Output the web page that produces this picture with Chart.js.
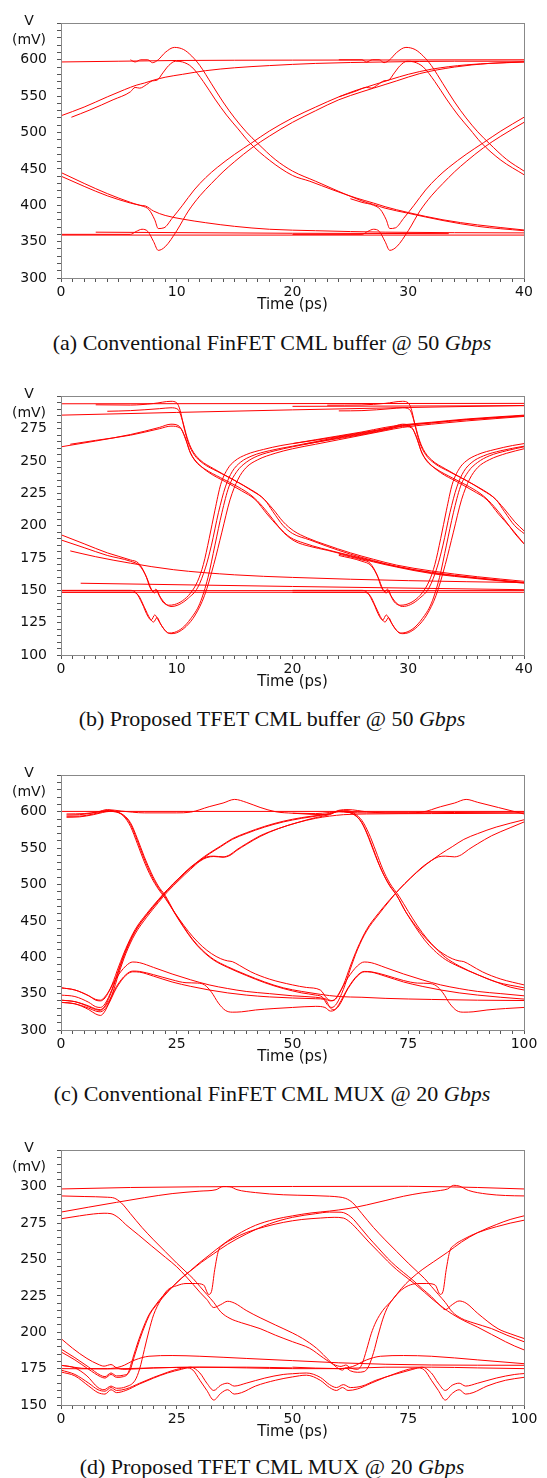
<!DOCTYPE html>
<html>
<head>
<meta charset="utf-8">
<script src="https://cdn.jsdelivr.net/npm/chart.js@4.4.1/dist/chart.umd.min.js"></script>
<style>
  html, body { margin: 0; padding: 0; background: #fff; }
  body { position: relative; width: 547px; height: 1478px; overflow: hidden; }
  canvas { position: absolute; left: 0; display: block; }
  .cap {
    position: absolute; left: 0; width: 544px; text-align: center;
    font-family: "Liberation Serif", "DejaVu Serif", serif; font-size: 22px;
    line-height: 26px; color: #111; white-space: nowrap;
  }
</style>
</head>
<body>
<canvas id="eyeA" width="547" height="309" style="top:5px"></canvas>
<div class="cap" style="top:330px">(a) Conventional FinFET CML buffer @ 50 <i>Gbps</i></div>
<canvas id="eyeB" width="547" height="313" style="top:378px"></canvas>
<div class="cap" style="top:706px">(b) Proposed TFET CML buffer @ 50 <i>Gbps</i></div>
<canvas id="eyeC" width="547" height="309" style="top:757px"></canvas>
<div class="cap" style="top:1081px">(c) Conventional FinFET CML MUX @ 20 <i>Gbps</i></div>
<canvas id="eyeD" width="547" height="309" style="top:1132px"></canvas>
<div class="cap" style="top:1454px">(d) Proposed TFET CML MUX @ 20 <i>Gbps</i></div>

<script>
// ─── (a) Conventional FinFET CML buffer, 50 Gbps — traces as [ps, mV] ───
const aHigh1 = [[0,597],[5,598],[10,599],[20,599.5],[40,600]];
const aHigh2 = [[6,600],[6.4,597],[6.9,600],[7.5,600],[7.9,596],[8.4,600],[9,610],[9.8,617],[10.6,614],[11.3,605],[12,592],[13,567],[14,542],[15,520],[16,501],[17,485],[18.5,463],[20,447],[22,433],[24,419],[26,406],[27,401],[28,396],[30,389],[33,379],[36,371],[40,365]];
const aHigh3 = [[24,600],[26,600],[26.4,597],[26.9,600],[27.5,600],[27.9,596],[28.4,600],[29,610],[29.8,617],[30.6,614],[31.3,605],[32,592],[33,567],[34,542],[35,520],[36,501],[37,485],[38.5,463],[40,447]];
const aUp1 = [[0,523],[2,535],[4,549],[5.5,559],[6.5,565],[7.2,568],[8,572],[9,576],[10.5,580],[12.5,585],[15,589],[18,592],[22,595],[28,597],[34,598],[40,598]];
const aUp2 = [[0.9,521],[2.5,531],[4.5,545],[6,556],[6.4,562],[6.8,561],[7.4,566],[7.9,571],[8.3,572],[8.8,582],[9.3,592],[9.9,598],[10.5,597],[11.3,590],[12.3,570],[13.3,546],[14.3,524],[15.3,505],[16.3,486],[18,462],[20,441],[21.5,433],[23.5,421],[25.5,410],[27,403],[28,398],[30,390],[33,380],[36,373],[40,366]];
const aUp3 = [[24,549],[25.5,557],[26.4,562],[26.8,561],[27.4,566],[27.9,571],[28.3,572],[28.8,582],[29.3,592],[29.9,598],[30.5,597],[31.3,590],[32.3,570],[33.3,546],[34.3,524],[35.3,505],[36.3,486],[38,462],[40,442]];
const aDecay1 = [[0,445],[2,430],[4,416],[6,404],[6.8,400],[7.3,399],[8,392],[9,386],[10.5,381],[12.5,376],[15,371],[18,367],[22,365],[28,363],[40,362]];
const aDecay2 = [[0,440],[2,426],[4,413],[6,403],[7,399],[7.6,394],[8.1,380],[8.4,368],[8.9,369],[9.6,382],[10.5,400],[11.5,421],[12.5,438],[13.5,452],[15,470],[16.5,486],[18,502],[20,520],[22,535],[24,549],[25.5,558],[26.5,563],[27.5,568],[28.5,573],[30,580],[32,587],[35,593],[40,597]];
const aDecay3 = [[25,409],[26,404],[27,400],[27.6,394],[28.1,380],[28.4,368],[28.9,369],[29.6,382],[30.5,400],[31.5,421],[32.5,438],[33.5,452],[35,470],[36.5,486],[38,502],[40,521]];
const aLow1 = [[0,359],[40,359]];
const aLow2 = [[0,360],[6,360],[6.5,364],[7,367],[7.5,364],[8,350],[8.4,338],[9,343],[10,365],[11,392],[12,413],[13,430],[14,446],[15,460],[16.5,479],[18,495],[20,514],[22,530],[24,545],[26,556],[27,561],[28,566],[29,571],[31,581],[34,590],[37,595],[40,597]];
const aLow3 = [[20,360],[26,360],[26.5,364],[27,367],[27.5,364],[28,350],[28.4,338],[29,343],[30,365],[31,392],[32,413],[33,430],[34,446],[35,460],[36.5,479],[38,495],[40,514]];
const aLow4 = [[3,363],[20,361.5],[33.5,361]];

// ─── (b) Proposed TFET CML buffer, 50 Gbps ───
const bTop1 = [[0,294.3],[40,294.6]];
const bTop2 = [[0,285.5],[10,287.6],[20,289.6],[30,291.4],[40,293]];
const bTop3 = [[20,292.3],[40,292.8]];
const bFall1 = [[3,293.5],[6,293.3],[8,294.5],[9.5,296.2],[10,295],[10.3,289],[10.6,277],[11,264],[11.5,255],[12.3,248],[13.5,242],[15,235],[16.5,227],[17.6,220],[18.3,211],[19.2,200],[20,194],[21.5,189],[23,184],[25,178],[27,173],[29,168.5],[32,164],[36,159.5],[40,156]];
const bFall2 = [[4,288.5],[6,289],[8.5,290.5],[9.5,291.2],[10.1,290],[10.5,281],[10.9,268],[11.3,259],[12,251],[13.2,244],[14.7,236.5],[16.2,229],[17.3,222.5],[18.3,213],[19.2,203],[20.1,196],[21.3,190.5],[22.8,185.5],[25,179],[27,174],[29,169.5],[32,165],[36,160.5],[40,157]];
const bFall3 = [[0,261],[3,265.5],[6,270.5],[8.5,276],[9.5,278.5],[10.2,277],[10.7,269],[11.1,258],[11.6,250],[12.4,244],[13.8,237],[15.3,230],[16.5,223],[17.4,215],[18.3,205],[19.2,195],[20.2,188],[21.5,184],[23,181],[25,176.5],[27,172],[29,168],[32,163],[36,159],[40,155.5]];
const bFall4 = [[0.8,263],[3,266],[6,270],[8.5,275],[9.5,277],[10.3,275.5],[10.8,266],[11.2,256],[11.8,248.5],[12.8,241],[14.2,234],[15.6,227],[16.8,220],[17.8,209],[18.8,199],[19.8,191],[21,186.5],[22.5,182.5],[25,177],[27,172.5],[29,168.5],[32,163.5],[36,159.5],[40,156]];
const bFall5 = [[23,293.2],[26,293.4],[28,294.6],[29.5,296.2],[30,295],[30.3,289],[30.6,277],[31,264],[31.5,255],[32.3,248],[33.5,242],[35,235],[36.5,227],[37.6,220],[38.3,211],[39.2,200],[40,194]];
const bFall6 = [[24,288.8],[26,289],[28.5,290.5],[29.5,291.2],[30.1,290],[30.5,281],[30.9,268],[31.3,259],[32,251],[33.2,244],[34.7,236.5],[36.2,229],[37.3,222.5],[38.3,213],[39.2,203],[40,196]];
const bFall7 = [[20,263.5],[23,267.5],[26,272],[28.5,276],[29.5,278.5],[30.2,277],[30.7,269],[31.1,258],[31.6,250],[32.4,244],[33.8,237],[35.3,230],[36.5,223],[37.4,215],[38.3,205],[39.2,194],[40,186]];
const bFall8 = [[21,263],[23,266],[26,270.5],[28.5,275],[29.5,277],[30.3,275.5],[30.8,266],[31.2,256],[31.8,248.5],[32.8,241],[34.2,234],[35.6,227],[36.8,220],[37.8,209],[38.8,199],[40,186]];
const bDecay = [[0.8,180.5],[3,176],[6,171],[9.7,166],[15,162],[20,160],[30,157.5],[40,156]];
const bLow1 = [[0,149.8],[40,149.8]];
const bLow2 = [[0,148.5],[40,148.5]];
const bLow3 = [[1.7,155.5],[20,153],[40,150.5]];
const bRise1 = [[0,193],[2,186],[4,179],[6,173.5],[6.7,171],[7.3,162],[7.7,152],[8,149],[8.2,151],[8.4,147.5],[8.8,141],[9.3,138.5],[9.8,139],[10.5,142],[11.2,148],[11.8,157],[12.3,170],[12.8,190],[13.3,212],[13.8,232],[14.4,244],[15,250],[16,255],[17.5,259],[19,262],[20,263.5],[22,266.5],[24,269.5],[26,272.5],[28,276],[29.5,278],[32,280],[35,282.5],[40,285.5]];
const bRise2 = [[0,189],[2,183],[4,177],[6,172.5],[6.8,169],[7.4,160],[7.8,151],[8.1,148],[8.3,150],[8.5,146],[9,140],[9.5,137.5],[10.2,139],[11,144],[11.8,152],[12.5,168],[13,185],[13.6,210],[14.2,230],[14.8,242],[15.5,249],[16.5,254],[18,258],[20,261.5],[22,265],[24,268.5],[26,271.5],[28,275],[29.5,277.5],[32,279.5],[35,282],[40,285]];
const bRise3 = [[0,150],[6,150],[6.5,148],[7,140],[7.5,130],[7.8,127],[8.1,131],[8.4,127],[8.9,120],[9.3,117],[9.8,117.5],[10.5,121],[11.2,128],[12,140],[12.7,160],[13.3,185],[13.9,210],[14.5,230],[15.2,242],[16,249],[17,254],[18.5,258],[20,261],[22,264.5],[24,268],[26,271],[28,274.5],[29.5,277],[32,279.5],[35,282],[40,285]];
const bRise4 = [[0,148.5],[6.2,148.5],[6.7,146],[7.2,137],[7.7,128],[8,125.5],[8.3,129],[8.6,124],[9.1,118],[9.5,116.5],[10,117.2],[10.8,122],[11.6,131],[12.4,146],[13.2,170],[13.9,195],[14.6,220],[15.3,236],[16,245],[17,251],[18.5,256],[20,259.5],[22,263],[24,266.5],[26,270],[28,273.5],[29.5,276],[32,278.5],[35,281],[40,284.5]];
const bRise5 = [[24,178],[26,173.5],[26.7,171],[27.3,162],[27.7,152],[28,149],[28.2,151],[28.4,147.5],[28.8,141],[29.3,138.5],[29.8,139],[30.5,142],[31.2,148],[31.8,157],[32.3,170],[32.8,190],[33.3,212],[33.8,232],[34.4,244],[35,250],[36,255],[37.5,259],[39,262],[40,263.5]];
const bRise6 = [[24,177],[26,172.5],[26.8,169],[27.4,160],[27.8,151],[28.1,148],[28.3,150],[28.5,146],[29,140],[29.5,137.5],[30.2,139],[31,144],[31.8,152],[32.5,168],[33,185],[33.6,210],[34.2,230],[34.8,242],[35.5,249],[36.5,254],[38,258],[40,261.5]];
const bRise7 = [[20,150],[26,150],[26.5,148],[27,140],[27.5,130],[27.8,127],[28.1,131],[28.4,127],[28.9,120],[29.3,117],[29.8,117.5],[30.5,121],[31.2,128],[32,140],[32.7,160],[33.3,185],[33.9,210],[34.5,230],[35.2,242],[36,249],[37,254],[38.5,258],[40,261]];
const bRise8 = [[20,148.5],[26.2,148.5],[26.7,146],[27.2,137],[27.7,128],[28,125.5],[28.3,129],[28.6,124],[29.1,118],[29.5,116.5],[30,117.2],[30.8,122],[31.6,131],[32.4,146],[33.2,170],[33.9,195],[34.6,220],[35.3,236],[36,245],[37,251],[38.5,256],[40,259.5]];

// ─── (c) Conventional FinFET CML MUX, 20 Gbps ───
const cTop1 = [[0,600.5],[100,600.5]];
const cTop2 = [[1.2,597],[5,597.5],[8,600],[10,603],[13,601],[18,598.5],[25,598.5],[28,599.5],[32,607],[35,612],[37.5,617],[40,613],[43,606],[46.4,600],[50,598],[54,596.5],[57,596],[58.5,598],[60,602],[62,603],[66,600],[70,598.5],[75,598.5],[78,599.5],[82,607],[85,612],[87.5,617],[90,613],[94.5,605.8],[100,597]];
const cRise1 = [[0,358],[3,355],[6,347],[7.5,341],[8.5,340],[9.5,344],[11,362],[12.5,388],[14,412],[16,438],[18.5,460],[21,479],[23,493],[25.5,509],[28,523],[30,533],[32,542],[34.5,552],[37,562],[40,570],[44,579],[48,586],[52,591],[56,595],[58,597],[60,601],[61.5,600.5],[63,597],[64.5,589],[66,572],[67.5,548],[69,523],[70.5,504],[72.5,485],[74.5,462],[76.5,444],[78.5,428],[80.5,415],[82.5,405],[84.5,398],[86,395],[87,394],[88.5,389],[91,380],[95,370],[100,362]];
const cRise2 = [[0,348],[3,346],[6,338],[7.5,332],[8.5,331],[9.5,336],[11,356],[12.5,384],[14,410],[16,436],[18.5,458],[21,478],[23,493],[25.5,509],[28,524],[30,533],[31.5,538],[33,539],[35,538],[36.5,541],[38,548],[40,556],[43,567],[47,577],[51,585],[55,592],[58,596],[60,601],[62,601.5],[63.5,597],[65,588],[66.5,570],[68,546],[69.5,521],[71,502],[73,484],[75,463],[77,443],[79,426],[81,412],[83,400],[86,388],[90,376],[94,366],[97,359],[100,355]];
const cRise3 = [[0,341],[3,339],[6,332],[7.5,328],[8.5,327],[9.5,333],[11,354],[12.5,382],[14,408],[16,435],[18.5,458],[21,477],[23,492],[25.5,508],[28,523],[30,534],[32,543],[34.5,553],[37,563],[40,571],[44,580],[48,587],[52,592],[56,595.5],[58,597.5],[60,600],[62,599],[66,598.5],[75,598.5],[85,599],[100,599.5]];
const cRise4 = [[0,338],[3,336],[6,328],[7.5,322],[8.5,320],[9.5,326],[11,348],[12.5,378],[14,405],[16,432],[18.5,455],[21,475],[23,490],[25.5,506],[28,521],[30,532],[31.5,537],[33,538.5],[35,537.5],[36.5,540],[38,547],[40,555],[43,566],[47,577],[51,585],[55,591],[58,594],[61,596],[66,597],[80,597.5],[100,598]];
const cFall1 = [[1.2,595.5],[4,596],[7,598.5],[9,601],[10.5,602],[12,600],[13.5,594],[15,580],[16.5,556],[18,531],[19.5,510],[21,494],[22.5,481],[24.5,462],[26.5,444],[28.5,428],[30.5,415],[32.5,405],[34.5,398],[36,395],[37,394],[38.5,389],[41,380],[45,370],[50,362],[53,358.5],[56,355],[57.5,343],[58.5,340.5],[59.5,344],[61,362],[62.5,388],[64,412],[66,438],[68.5,460],[71,479],[73,493],[75.5,509],[78,523],[80,533],[82,542],[84.5,552],[87,562],[90,570],[94,579],[100,589]];
const cFall2 = [[1.2,593.8],[4,594],[7,597],[9,600],[10.5,601.5],[12,600],[13.5,595],[15,583],[16.5,560],[18,535],[19.5,513],[21,496],[22.5,483],[24.5,461],[26.5,441],[28.5,423],[30.5,409],[33,396],[36,386],[40,375],[44,365],[48,357],[52,351],[55,348],[56.5,345],[57.5,335],[58.5,331],[59.5,336],[61,356],[62.5,384],[64,410],[66,436],[68.5,458],[71,478],[73,493],[75.5,509],[78,524],[80,533],[81.5,538],[83,539],[85,538],[86.5,541],[88,548],[90,556],[93,567],[97,578],[100,586]];
const cFall3 = [[1.2,592.4],[4,593],[7,596],[9,599],[10.5,600.5],[12,599.5],[13.5,595.5],[15,585],[16.5,563],[18,538],[19.5,516],[21,498],[22.5,485],[24.5,462],[26.5,442],[28.5,424],[30.5,410],[33,397],[36,387],[40,376],[44,366],[48,358],[52,353],[56,349],[60,346],[65,345],[70,343.5],[80,342],[90,341],[100,340.5]];
const cFall4 = [[50,598],[55,597.5],[58,599],[60.5,600.5],[62,599.5],[63.5,595.5],[65,585],[66.5,563],[68,538],[69.5,516],[71,498],[72.5,485],[74.5,462],[76.5,442],[78.5,424],[80.5,410],[83,397],[86,387],[90,376],[94,366],[100,358]];
const cLow1 = [[0,358],[3,355],[6,347],[7.5,342],[8.5,341],[10,350],[12,372],[14,388],[15.5,393.5],[17,392.5],[20,386],[24,377],[28,369],[32,362],[36,357],[40,353],[45,350],[50,347],[55,345],[57,343],[58.2,340],[59,341],[60,350],[62,372],[64,388],[65.5,393.5],[67,392.5],[70,386],[74,377],[78,369],[82,362],[86,357],[90,353],[95,350],[100,347]];
const cLow2 = [[0,341],[3,339],[6,333],[7.5,329],[8.5,328],[10,336],[12,360],[14,376],[15.5,381],[17,380.5],[20,376],[24,369],[27,365],[29.5,364.5],[31,362],[32.5,352],[34,337],[35.5,327],[37,324.5],[39,325],[42,327.5],[46,329.5],[50,331],[55,332.5],[57,331],[58.2,326],[59,327],[60,335],[62,358],[64,375],[65.5,380.5],[67,380],[70,375.5],[74,368],[77,364.5],[79.5,364],[81,361],[82.5,351],[84,336],[85.5,326.5],[87,324.5],[89,325],[92,327.5],[96,329.5],[100,331]];
const cLow3 = [[0,338],[3,336],[6,330],[7.5,326],[8.5,325],[10,333],[12,358],[14,375],[15.5,380],[17,379.5],[20,374],[24,366],[28,360],[32,355],[36,351],[40,348],[45,345.5],[50,344],[55,343],[57,342],[58.2,330],[59,328],[60,333],[62,357],[64,374],[65.5,380],[67,379.5],[70,374],[74,366],[78,360],[82,355],[86,351],[90,348],[95,345],[100,342.5]];

// ─── (d) Proposed TFET CML MUX, 20 Gbps ───
const dTop1 = [[0,298.5],[15,299.5],[30,300],[50,300.2],[75,300.3],[90,299.5],[100,298.5]];
const dTop2 = [[0,282.6],[6,286],[12,289.3],[18,292.5],[24,295.3],[30,297],[33.5,298],[35,300.2],[36.5,300],[38,298],[42,296],[48,294.5],[54,294],[58,293.5],[60,293],[61.5,292],[63,289],[65,281.5],[67.5,272],[70,263.5],[72.5,255.5],[75,247.5],[77,241.5],[78.5,237],[80,231.5],[81.5,226],[83,220.5],[84.5,214],[86.5,209.5],[89,206.5],[93,202.5],[96.3,198],[100,193.5]];
const dRise1 = [[0,186.5],[3,181],[6,174.5],[8.5,169.5],[9.5,168.5],[10.8,171],[12,169],[13.5,169.5],[14.5,172],[15.5,182],[16.7,194],[18,205],[19,212],[20.5,219],[22,225],[24,231],[26,237],[28,242.5],[30,248],[32,253],[35,260.5],[38,267],[42,273.5],[46,277.5],[50,280],[54,282],[58,283.3],[62,285],[66,287.5],[70,290.5],[74,293.5],[78,295.8],[82,297.5],[83.5,298.5],[84.8,301],[86,300.5],[88,297.5],[92,295],[96,294],[100,293.7]];
const dRise2 = [[0,188.5],[3,182.5],[6,176],[8.5,170.5],[9.5,169.5],[10.8,172],[12,170],[13.5,170.5],[14.8,173],[15.8,183],[17,195],[18.3,206],[19.3,213],[20.8,219.5],[22.3,225],[24.3,232],[26.3,238],[28.3,243],[30.3,248],[33,254],[36,260.5],[40,267.5],[45,274.5],[50,279],[55,281.5],[58,282.6],[60.5,282.5],[62.6,279.3],[64.8,271.5],[66.5,265],[68.5,258],[70.5,251],[72.2,245.8],[74,241],[76,235.8],[78,230],[80,224.5],[82,218],[83,215.5],[84.5,219],[86,221.5],[87.5,220],[90,213],[94.4,202.4],[97,199],[100,195.7]];
const dRise3 = [[0,177.3],[3,175.5],[5.6,170],[8,162],[9.3,160.5],[10.8,163],[12,161.5],[14,162.5],[16,167],[17,175],[18,188],[19,201],[20,212],[21.5,222],[23,229],[25,232],[27,233.5],[29,233.5],[30.8,232.5],[31.9,226],[32.5,228],[33.2,243],[34,256],[35,260],[37,264],[40,268.5],[44,272.5],[48,275.5],[52,277.5],[56,278.5],[59,279],[61,278.5],[62.5,275.5],[64.5,269],[66.5,262],[68.5,255.5],[70.5,249],[72.5,243],[74.5,238],[76.5,233],[78.5,227.5],[80.5,222],[82.5,217],[84.5,212.5],[87,208],[90,203.5],[93,198.5],[96,193.5],[98,190.5],[100,187.9]];
const dFall1 = [[0,293.7],[5,293.3],[10,292.8],[11.5,292.2],[13,289],[15,281.5],[17.5,272],[20,263.5],[22.5,255.5],[25,247.5],[27,241.5],[28.5,237],[30,231.5],[31.5,226],[33,220.5],[34.5,214],[36.5,209.5],[39,206.5],[43,202.5],[46.3,198],[50,193.5],[53.7,189],[56.7,182.3],[58.9,177.9],[60.5,176.5],[61.5,177.5],[62.5,175.5],[64,174.5],[65,178],[66,188],[67,199],[68,207],[69.5,215],[71.5,222],[73.5,230],[75.5,236.5],[78,243],[80.5,248.5],[83.5,255],[86.5,262],[90,268.5],[94,274],[97,277.5],[100,280]];
const dFall2 = [[0,278],[4,280],[7,281.3],[9.3,281.8],[10.8,281.5],[12.5,278.5],[14,274],[16.7,267],[19.5,259.5],[22.6,251.4],[25,245],[27.1,238],[28.5,233],[30,227.5],[31.5,222.5],[33,217],[34.5,219],[36,221.3],[37.5,220],[40,215],[43,210],[46.3,205],[50,199.5],[52.2,195.7],[55.2,189],[58.1,180],[59.5,176],[60.8,174],[61.5,175.5],[62.5,173.5],[64,172.5],[65.5,173],[66.5,177],[67.5,186],[68.5,198],[69.5,209],[70.5,217],[72,224],[73.5,229],[75,232],[77,233.5],[79,233.5],[80.8,232.5],[81.9,226],[82.5,228],[83.2,243],[84,256],[85,260],[87,264],[90,268.5],[94,272.5],[97,275],[100,277]];
const dLow1 = [[0,177.3],[6,175],[10,175],[13,176.5],[16,181],[19,183.5],[24,184],[30,183.5],[40,182],[50,180.5],[60,179],[70,178],[80,177.5],[100,177.3]];
const dLow2 = [[50,176],[60,175],[63,176.5],[66,181],[69,183.5],[74,184],[80,183.5],[90,181],[100,178.4]];
const dLow3 = [[0,174],[3,171],[6,165],[8,160.5],[9.5,159.5],[10.8,162],[12,160],[14,161],[17,165],[20,169],[23,172.5],[25,174.5],[27,175.5],[28.5,174],[30,167],[31.5,160],[33,153.4],[34.5,158],[36,160.5],[37.4,157.5],[39,158.5],[42,163],[46.3,167],[50,169.3],[53,170.5],[56,167],[58,162],[59.5,160],[60.8,162],[62,160],[64,161],[67,165],[70,169],[73,172.5],[75,174.5],[77,175.5],[78.5,174],[80,167],[81.5,160],[83,153.4],[84.5,158],[86,160.5],[87.4,157.5],[89,158.5],[92,163],[96,167],[100,169]];
const dLow4 = [[0,172.7],[3,170],[6,163],[8,158.5],[9.5,157.5],[10.8,160.5],[12,158.5],[14,160],[17,164.5],[20,168.5],[23,172],[26,174.5],[28,176],[30,172],[31.5,165],[33,160],[34.5,163.6],[36,165],[37.4,163],[40,165],[44,168.5],[48,171],[50,171.5],[53,172],[56,169],[58,164],[59.5,162],[61,164],[62.5,162],[65,163],[68,167],[72,171],[76,174.5],[78,176],[80,172],[81.5,165],[83,160],[84.5,163.6],[86,165],[87.4,163],[90,165],[94,168.5],[98,171],[100,171.6]];
const dLow5 = [[0,175],[10,174.8],[20,175.5],[30,176],[40,175.5],[50,175],[60,175],[70,176],[80,176],[90,175.5],[100,175]];
const dLow6 = [[0,195.7],[2.5,189],[5.6,182],[8,178],[9.3,176.7],[10.8,177.8],[12,175.5],[13.8,174.5],[20,175.5],[30,176],[40,176],[50,175.5]];

// ─── Shared styling ───
const FONT = "'DejaVu Sans', Verdana, sans-serif";
const TEXT = "#111";
const AXIS = "#888";
const TICK = "#555";

function isMajor(v, step) {
  return Math.abs(v / step - Math.round(v / step)) < 1e-6;
}

// frame around the plot + the "V (mV)" unit label at the top of the y axis
const framePlugin = {
  id: "eyeFrame",
  afterDraw(chart) {
    const { ctx, chartArea: a } = chart;
    ctx.save();
    ctx.strokeStyle = AXIS;
    ctx.lineWidth = 1;
    ctx.strokeRect(Math.round(a.left) + 0.5, Math.round(a.top) + 0.5,
                   Math.round(a.right - a.left), Math.round(a.bottom - a.top));
    ctx.fillStyle = TEXT;
    ctx.font = `14px ${FONT}`;
    ctx.textAlign = "center";
    ctx.textBaseline = "middle";
    ctx.fillText("V", 29, a.top - 2);
    ctx.fillText("(mV)", 29, a.top + 17);
    ctx.restore();
  },
};

function eyeChart(id, traces, x, y) {
  return new Chart(document.getElementById(id), {
    type: "line",
    data: {
      datasets: traces.map((tr) => ({
        data: tr.map(([t, v]) => ({ x: t, y: v })),
        borderColor: "#ff0000",
        borderWidth: 1,
        pointRadius: 0,
        fill: false,
        cubicInterpolationMode: "monotone",
      })),
    },
    options: {
      responsive: false,
      animation: false,
      events: [],
      layout: { padding: { top: 10, right: 23, left: 0, bottom: 0 } },
      plugins: { legend: { display: false }, tooltip: { enabled: false } },
      scales: {
        x: {
          type: "linear", min: 0, max: x.max,
          afterFit: (s) => { s.height = 36; },
          ticks: {
            stepSize: x.minor, autoSkip: false, maxRotation: 0, padding: 2,
            color: TEXT, font: { family: FONT, size: 14 },
            callback: (v) => (isMajor(v, x.major) ? String(v) : ""),
          },
          grid: { drawOnChartArea: false, tickLength: 4, tickColor: TICK, tickWidth: 1 },
          border: { color: AXIS },
          title: { display: true, text: "Time (ps)", color: TEXT, padding: 0,
                   font: { family: FONT, size: 15 } },
        },
        y: {
          type: "linear", min: y.min, max: y.max,
          afterFit: (s) => { s.width = 61; },
          ticks: {
            stepSize: y.minor, autoSkip: false, padding: 10,
            color: TEXT, font: { family: FONT, size: 14 },
            callback: (v) => (isMajor(v, y.major) && v < y.max ? String(v) : ""),
          },
          grid: { drawOnChartArea: false, tickLength: 4, tickColor: TICK, tickWidth: 1 },
          border: { color: AXIS },
        },
      },
    },
    plugins: [framePlugin],
  });
}

eyeChart("eyeA",
  [aHigh1, aHigh2, aHigh3, aUp1, aUp2, aUp3, aDecay1, aDecay2, aDecay3, aLow1, aLow2, aLow3, aLow4],
  { max: 40, minor: 1, major: 10 }, { min: 300, max: 650, minor: 10, major: 50 });

eyeChart("eyeB",
  [bTop1, bTop2, bTop3, bFall1, bFall2, bFall3, bFall4, bFall5, bFall6, bFall7, bFall8, bDecay,
   bLow1, bLow2, bLow3, bRise1, bRise2, bRise3, bRise4, bRise5, bRise6, bRise7, bRise8],
  { max: 40, minor: 1, major: 10 }, { min: 100, max: 300, minor: 5, major: 25 });

eyeChart("eyeC",
  [cTop1, cTop2, cRise1, cRise2, cRise3, cRise4, cFall1, cFall2, cFall3, cFall4, cLow1, cLow2, cLow3],
  { max: 100, minor: 2.5, major: 25 }, { min: 300, max: 650, minor: 10, major: 50 });

eyeChart("eyeD",
  [dTop1, dTop2, dRise1, dRise2, dRise3, dFall1, dFall2, dLow1, dLow2, dLow3, dLow4, dLow5, dLow6],
  { max: 100, minor: 2.5, major: 25 }, { min: 150, max: 325, minor: 5, major: 25 });
</script>
</body>
</html>
